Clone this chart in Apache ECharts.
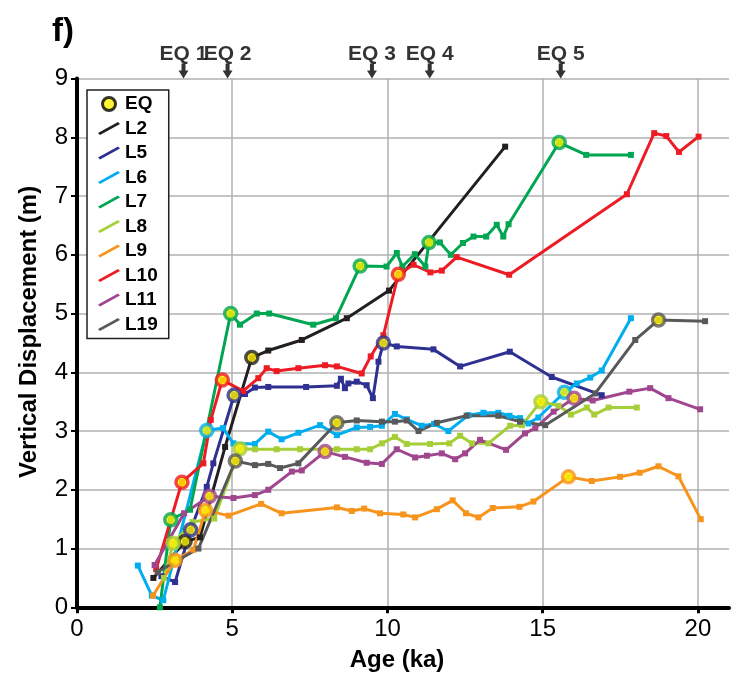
<!DOCTYPE html>
<html>
<head>
<meta charset="utf-8">
<script src="https://cdn.jsdelivr.net/npm/echarts@6/dist/echarts.min.js"></script>
<style>
  html, body { margin: 0; padding: 0; background: #fff; }
  #chart { width: 743px; height: 684px; }
</style>
</head>
<body>
<div id="chart"></div>
<script>
// Vertical displacement (m) versus age (ka) for each profile.
const L2 = [[2.46,0.50],[3.48,1.12],[3.96,1.19],[4.77,2.73],[5.63,4.25],[6.16,4.37],[7.24,4.55],[8.69,4.92],[10.05,5.39],[13.79,7.84]];
const L5 = [[2.72,0.53],[3.16,0.43],[3.66,1.32],[4.18,2.05],[4.39,2.45],[5.06,3.61],[5.41,3.63],[5.73,3.74],[6.16,3.75],[7.38,3.75],[8.37,3.77],[8.50,3.89],[8.63,3.73],[8.74,3.81],[9.01,3.84],[9.33,3.78],[9.53,3.56],[9.71,4.18],[9.87,4.50],[10.30,4.44],[11.48,4.39],[12.34,4.10],[13.94,4.35],[15.29,3.92],[16.90,3.61]];
const L6 = [[1.96,0.71],[2.41,0.20],[2.78,0.12],[4.18,3.01],[4.70,3.05],[5.04,2.79],[5.73,2.78],[6.16,2.99],[6.59,2.86],[7.13,2.97],[7.83,3.10],[8.37,2.93],[9.01,3.06],[9.44,3.07],[9.82,3.09],[10.24,3.29],[10.62,3.20],[11.10,3.09],[11.50,3.12],[11.96,3.00],[12.61,3.27],[13.09,3.31],[13.57,3.31],[13.93,3.26],[14.27,3.22],[14.54,3.13],[14.86,3.23],[15.70,3.66],[16.10,3.81],[16.53,3.91],[16.90,4.03],[17.84,4.92]];
const L7 = [[2.67,0.00],[3.02,1.49],[3.64,1.66],[4.95,5.00],[5.25,4.81],[5.79,5.00],[6.19,5.00],[7.61,4.81],[8.34,4.92],[9.12,5.81],[9.97,5.80],[10.30,6.03],[10.48,5.80],[10.88,6.01],[11.22,5.80],[11.34,6.21],[11.69,6.21],[12.04,6.00],[12.43,6.20],[12.77,6.31],[13.18,6.31],[13.52,6.51],[13.73,6.31],[13.90,6.52],[15.53,7.91],[16.40,7.70],[17.84,7.70]];
const L8 = [[2.80,0.50],[3.10,1.09],[3.72,1.45],[4.42,1.51],[5.25,2.70],[5.73,2.69],[6.43,2.69],[7.18,2.69],[8.37,2.69],[9.01,2.69],[9.44,2.69],[9.82,2.79],[10.24,2.90],[10.62,2.78],[11.37,2.78],[11.99,2.79],[12.34,2.92],[12.72,2.79],[13.25,2.79],[13.95,3.09],[14.33,3.10],[14.94,3.50],[15.51,3.43],[15.91,3.28],[16.42,3.40],[16.66,3.28],[17.12,3.40],[18.03,3.40]];
const L9 = [[2.45,0.20],[3.16,0.80],[3.75,0.98],[4.14,1.65],[4.88,1.56],[5.93,1.76],[6.59,1.60],[8.37,1.70],[8.85,1.64],[9.25,1.68],[9.76,1.60],[10.51,1.58],[10.89,1.53],[11.59,1.67],[12.10,1.82],[12.53,1.60],[12.93,1.53],[13.39,1.69],[14.25,1.71],[14.70,1.80],[15.83,2.22],[16.58,2.15],[17.49,2.22],[18.12,2.29],[18.73,2.40],[19.37,2.23],[20.09,1.50]];
const L10 = [[2.55,0.65],[3.38,2.13],[4.07,2.45],[4.31,3.19],[4.68,3.87],[5.35,3.68],[5.84,3.90],[6.11,4.07],[6.43,4.02],[7.13,4.07],[7.99,4.12],[8.37,4.10],[9.17,3.98],[9.46,4.27],[9.87,4.63],[10.35,5.67],[10.84,5.83],[11.38,5.70],[11.75,5.73],[12.23,5.96],[13.92,5.66],[17.71,7.03],[18.59,8.07],[18.98,8.02],[19.39,7.75],[20.02,8.01]];
const L11 = [[2.50,0.72],[3.45,1.60],[4.27,1.89],[5.04,1.86],[5.73,1.91],[6.16,2.00],[6.92,2.31],[7.24,2.33],[7.99,2.65],[8.63,2.56],[9.33,2.46],[9.82,2.44],[10.30,2.69],[10.89,2.55],[11.27,2.58],[11.75,2.62],[12.18,2.52],[12.50,2.62],[12.98,2.85],[13.82,2.68],[14.43,2.96],[14.76,3.05],[15.35,3.33],[16.01,3.56],[16.61,3.52],[17.79,3.67],[18.46,3.73],[19.05,3.56],[20.07,3.37]];
const L19 = [[2.60,0.60],[3.91,1.00],[5.10,2.49],[5.73,2.42],[6.16,2.44],[6.54,2.37],[7.13,2.45],[8.37,3.14],[9.01,3.18],[9.82,3.16],[10.24,3.16],[10.62,3.18],[11.00,3.00],[11.59,3.14],[12.55,3.26],[13.57,3.26],[14.27,3.16],[15.08,3.10],[16.69,3.64],[17.98,4.55],[18.73,4.89],[20.23,4.87]];

// Which vertices of each profile are earthquake events (indices into the arrays above).
const eqL2 = [1, 4];
const eqL5 = [2, 5, 18];
const eqL6 = [3, 27];
const eqL7 = [1, 3, 9, 15, 24];
const eqL8 = [1, 4, 21];
const eqL9 = [1, 3, 20];
const eqL10 = [1, 4, 15];
const eqL11 = [2, 8, 23];
const eqL19 = [2, 7, 20];

// Event ages marked along the top of the plot.
const eventAges = [3.43, 4.85, 9.50, 11.36, 15.58];
const eventNames = ['EQ 1', 'EQ 2', 'EQ 3', 'EQ 4', 'EQ 5'];

const xTickLabels = [0, 5, 10, 15, 20];

const profiles = [
  { name: 'L2',  data: L2,  eq: eqL2,  color: '#231F20' },
  { name: 'L5',  data: L5,  eq: eqL5,  color: '#2E3192' },
  { name: 'L6',  data: L6,  eq: eqL6,  color: '#00AEEF' },
  { name: 'L7',  data: L7,  eq: eqL7,  color: '#00A651' },
  { name: 'L8',  data: L8,  eq: eqL8,  color: '#A6CE39' },
  { name: 'L9',  data: L9,  eq: eqL9,  color: '#F7941D' },
  { name: 'L10', data: L10, eq: eqL10, color: '#ED1C24' },
  { name: 'L11', data: L11, eq: eqL11, color: '#A0468F' },
  { name: 'L19', data: L19, eq: eqL19, color: '#58595B' }
];

const SANS = "'Liberation Sans', Arial, Helvetica, sans-serif";
const EQ_FILL = '#FFF200';
const lineIcon = 'path://M0,11L20,0L22,2L2,13Z';

const series = profiles.map(p => ({
  name: p.name,
  type: 'line',
  data: p.data,
  color: p.color,
  symbol: 'rect',
  symbolSize: 6,
  showAllSymbol: true,
  lineStyle: { width: 3, color: p.color },
  itemStyle: { color: p.color },
  z: 3
}));

const eqPoints = [];
profiles.forEach(p => {
  p.eq.forEach(i => {
    eqPoints.push({ value: p.data[i], itemStyle: { borderColor: p.color } });
  });
});

series.push({
  name: 'EQ',
  type: 'scatter',
  data: eqPoints,
  symbol: 'circle',
  symbolSize: 12,
  itemStyle: { color: EQ_FILL, borderColor: '#000', borderWidth: 3.5 },
  z: 5
});

series.push({
  name: 'events',
  type: 'scatter',
  data: eventAges.map(a => [a, 9]),
  symbol: 'path://M3,0L7,0L7,7L10,7L5,15L0,7L3,7Z',
  symbolSize: [10, 15],
  symbolOffset: [0, '-50%'],
  clip: false,
  silent: true,
  itemStyle: { color: '#000' },
  label: {
    show: true,
    position: 'top',
    distance: -1,
    formatter: p => eventNames[p.dataIndex],
    fontFamily: SANS,
    fontWeight: 'bold',
    fontSize: 21,
    color: '#000'
  },
  z: 6
});

const legendData = [{
  name: 'EQ',
  icon: 'circle',
  itemStyle: { color: EQ_FILL, borderColor: '#000', borderWidth: 3 }
}].concat(profiles.map(p => ({ name: p.name, icon: lineIcon, itemStyle: { color: p.color } })));

const chart = echarts.init(document.getElementById('chart'), null, { renderer: 'canvas' });
chart.setOption({
  animation: false,
  backgroundColor: '#fff',
  title: {
    text: 'f)',
    left: 47,
    top: 10,
    textStyle: { fontFamily: SANS, fontWeight: 'bold', fontSize: 33, color: '#000' }
  },
  grid: { left: 77, right: 14, top: 78.5, bottom: 76.7, containLabel: false },
  legend: {
    orient: 'vertical',
    left: 87,
    top: 90,
    data: legendData,
    itemWidth: 22,
    itemHeight: 13,
    itemGap: 4.5,
    padding: [4, 11, 4, 11],
    backgroundColor: '#fff',
    borderColor: '#231F20',
    borderWidth: 1.5,
    borderRadius: 0,
    selectedMode: false,
    textStyle: { fontFamily: SANS, fontWeight: 'bold', fontSize: 19, color: '#000', lineHeight: 20 }
  },
  xAxis: {
    type: 'value',
    min: 0,
    max: 21,
    interval: 1,
    name: 'Age (ka)',
    nameLocation: 'middle',
    nameGap: 41,
    nameTextStyle: { fontFamily: SANS, fontWeight: 'bold', fontSize: 24, color: '#000', padding: [0, 12, 0, 0] },
    axisLine: { show: true, onZero: false, lineStyle: { color: '#000', width: 4 } },
    axisTick: { show: true, inside: false, length: 6, customValues: xTickLabels, lineStyle: { color: '#000', width: 3 } },
    axisLabel: { show: true, customValues: xTickLabels, margin: 10, fontFamily: SANS, fontSize: 24, color: '#000' },
    splitLine: { show: true, lineStyle: { color: '#B0B0B0', width: 1.5 } }
  },
  yAxis: {
    type: 'value',
    min: 0,
    max: 9,
    interval: 1,
    name: 'Vertical Displacement (m)',
    nameLocation: 'middle',
    nameGap: 36,
    nameRotate: 90,
    nameTextStyle: { fontFamily: SANS, fontWeight: 'bold', fontSize: 24, color: '#000', padding: [0, 0, 0, 22] },
    axisLine: { show: true, onZero: false, lineStyle: { color: '#000', width: 4 } },
    axisTick: { show: true, inside: false, length: 6, lineStyle: { color: '#000', width: 2 } },
    axisLabel: { show: true, margin: 9, fontFamily: SANS, fontSize: 24, color: '#000' },
    splitLine: { show: true, lineStyle: { color: '#B0B0B0', width: 1.5 } }
  },
  series: series
});
</script>
</body>
</html>
